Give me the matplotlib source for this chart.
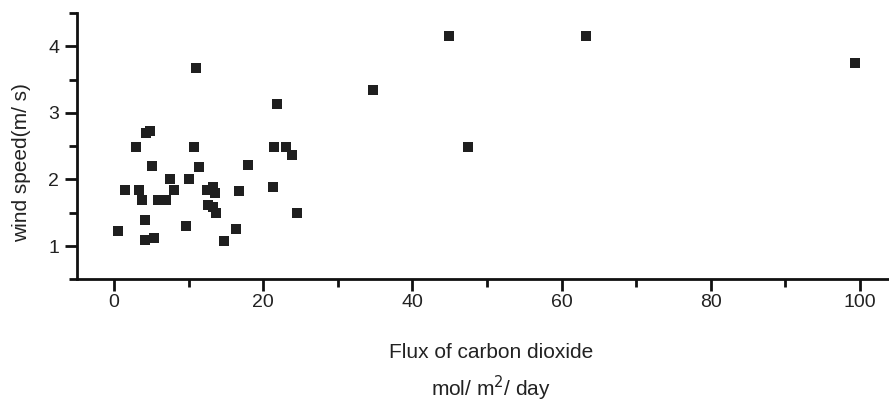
import matplotlib
matplotlib.use("Agg")
import matplotlib.pyplot as plt
from matplotlib.ticker import MultipleLocator

# CO2 flux (mol/m^2/day) and wind speed (m/s)
flux = [0.6, 1.5, 3.0, 3.4, 3.8, 4.2, 4.2, 4.3, 4.8, 5.1, 5.3, 5.9, 7.0, 7.5,
        8.0, 9.6, 10.0, 10.7, 11.0, 11.4, 12.5, 13.3, 13.5, 12.6, 13.3, 13.7,
        14.7, 16.4, 16.8, 18.0, 21.3, 21.4, 21.9, 23.1, 23.9, 24.5, 34.7,
        44.9, 47.4, 63.3, 99.4]
wind = [1.23, 1.84, 2.49, 1.84, 1.69, 1.39, 1.09, 2.70, 2.73, 2.20, 1.12, 1.69,
        1.69, 2.00, 1.84, 1.30, 2.00, 2.48, 3.68, 2.18, 1.84, 1.88, 1.80, 1.61,
        1.58, 1.50, 1.08, 1.25, 1.83, 2.21, 1.89, 2.48, 3.13, 2.48, 2.36, 1.50,
        3.35, 4.16, 2.49, 4.16, 3.75]

x_ticks = [0, 20, 40, 60, 80, 100]
y_ticks = [1, 2, 3, 4]

plt.rcParams['font.family'] = ['Liberation Sans', 'DejaVu Sans']

fig = plt.figure(figsize=(8.89, 4.03), dpi=100)
ax = fig.add_axes([76.7 / 889, (403 - 279.3) / 403, (889.8 - 76.7) / 889, (279.3 - 13) / 403])

ax.plot(flux, wind, linestyle='none', marker='s', markersize=7.2,
        color='#1f1f1f', markeredgewidth=0)

ax.set_xlim(-5, 104)
ax.set_ylim(0.5, 4.5)
ax.set_xticks(x_ticks)
ax.set_yticks(y_ticks)
ax.xaxis.set_minor_locator(MultipleLocator(10))
ax.yaxis.set_minor_locator(MultipleLocator(0.5))

for side in ('top', 'right'):
    ax.spines[side].set_visible(False)
for side in ('left', 'bottom'):
    ax.spines[side].set_linewidth(2.0)
    ax.spines[side].set_color('#111111')

ax.tick_params(which='major', direction='out', length=8.5, width=2.0,
               color='#111111', labelsize=14, labelcolor='#222222')
ax.tick_params(which='minor', direction='out', length=5.5, width=2.0,
               color='#111111')
ax.tick_params(axis='x', which='major', pad=2)
ax.tick_params(axis='y', which='major', pad=4)

fig.text(491 / 889, 1 - 352 / 403, 'Flux of carbon dioxide', ha='center',
         va='center', fontsize=15, color='#222222')
fig.text(491 / 889, 1 - 388 / 403, 'mol/ m$^2$/ day', ha='center', va='center',
         fontsize=15, color='#222222')
fig.text(22 / 889, 1 - 163 / 403, 'wind speed(m/ s)', ha='center', va='center',
         rotation=90, fontsize=15, color='#222222')

fig.savefig('out.png', dpi=100)
